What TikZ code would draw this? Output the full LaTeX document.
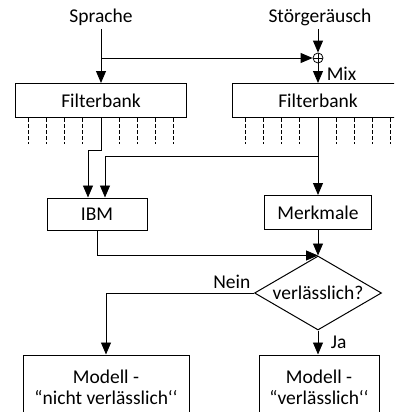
\documentclass[tikz,border=0pt]{standalone}
\usepackage{fontspec}
\setmainfont{Carlito}
\usepackage{tikz}
\usetikzlibrary{arrows.meta,positioning,shapes.geometric,calc}
\tikzset{
  blk/.style={draw,line width=1pt,minimum height=34pt,inner sep=0pt},
  ask/.style={draw,line width=1pt,shape=diamond,aspect=1.7,inner sep=0pt,
              minimum width=127pt,minimum height=74pt},
  arr/.style={-{Triangle[length=12pt,width=10pt]},line width=0.9pt},
  band/.style={line width=0.8pt,dash pattern=on 3.5pt off 2.5pt},
  sum/.style={draw,circle,line width=0.8pt,minimum size=10pt,inner sep=0pt,
              path picture={\draw[line width=0.7pt]
                (path picture bounding box.north) -- (path picture bounding box.south)
                (path picture bounding box.west) -- (path picture bounding box.east);}},
}

\begin{document}
\begin{tikzpicture}[x=1pt,y=-1pt,font=\fontsize{19.5pt}{21pt}\selectfont]
  \useasboundingbox (0,0) rectangle (394,412);
  \clip (0,0) rectangle (394,412);

  % inputs
  \node (sprache) at (101,17) {Sprache};
  \node (stoer)   at (320,17) {Störgeräusch};
  \node[sum] (mix) at (318,58) {};

  % filterbanks
  \node[blk,minimum width=171pt] (fbL) at (101,100.5) {Filterbank};
  \node[blk,minimum width=171pt] (fbR) at (318,100.5) {Filterbank};
  \foreach \dx in {-72.8,-54.6,-36.4,-18.2,18.2,36.4,54.6,72.8}{
    \draw[band] ([xshift=\dx pt]fbL.south) -- ++(0,26);
    \draw[band] ([xshift=\dx pt]fbR.south) -- ++(0,26);
  }

  % processing
  \node[blk,minimum width=100pt,minimum height=32pt] (ibm) at (97,214) {IBM};
  \node[blk,minimum width=107pt] (merk) at (318,212.5) {Merkmale};
  \node[ask] (verl) at (318,293) {verlässlich?};

  % models
  \node[blk,minimum width=166pt,minimum height=64pt,align=center] (modL) at (106,387)
    {Modell -\\“nicht verlässlich‘‘};
  \node[blk,minimum width=120pt,minimum height=64pt,align=center] (modR) at (319,387)
    {Modell -\\“verlässlich‘‘};

  % connections
  \coordinate (br) at (sprache.south |- mix);
  \draw[arr] (sprache) -- (fbL);
  \draw[arr] (br) -- (mix.west);
  \draw[arr] (stoer.south -| mix) -- (mix);
  \draw[arr] (mix) -- node[right=5pt,pos=0.55]{Mix} (fbR);

  \draw[arr] (fbL.south) -- ++(0,32) -| ([xshift=-9pt]ibm.north);
  \coordinate (tap) at ([yshift=-38pt]fbR.south);
  \draw[arr] (fbR.south) -- (merk.north);
  \draw[arr] (tap) -| ([xshift=8pt]ibm.north);

  \draw[arr] (ibm.south) |- (verl.north);
  \draw[arr] (merk) -- (verl.north);
  \draw[arr] (verl.west) -| node[pos=0.075,above=1pt]{Nein} (modL.north);
  \draw[arr] (verl.south) -- node[right=9pt]{Ja} (modR.north -| verl);
\end{tikzpicture}
\end{document}
